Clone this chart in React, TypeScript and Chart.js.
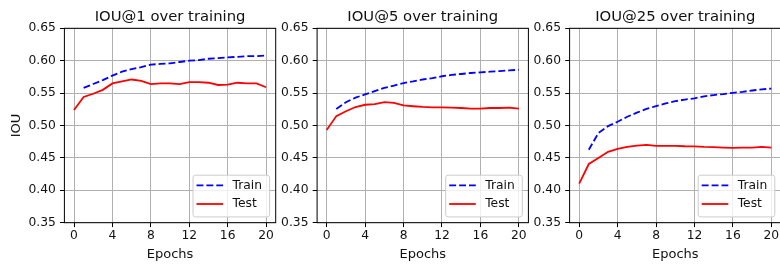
import React, { useEffect, useRef } from "react";
import { Chart, registerables } from "chart.js";

Chart.register(...registerables);

const EPOCHS = [0, 1, 2, 3, 4, 5, 6, 7, 8, 9, 10, 11, 12, 13, 14, 15, 16, 17, 18, 19, 20];
const X_TICKS = [0, 4, 8, 12, 16, 20];
const Y_TICKS = [0.35, 0.4, 0.45, 0.5, 0.55, 0.6, 0.65];
const TITLES = ["IOU@1 over training", "IOU@5 over training", "IOU@25 over training"];
const SERIES_NAMES = ["Train", "Test"];

const TRAIN_IOU1 = [null, 0.558, 0.564, 0.570, 0.577, 0.583, 0.587, 0.590, 0.594, 0.595, 0.596, 0.598, 0.600, 0.601, 0.603, 0.604, 0.605, 0.606, 0.607, 0.607, 0.608];
const TEST_IOU1 = [0.524, 0.544, 0.549, 0.555, 0.565, 0.568, 0.571, 0.569, 0.564, 0.565, 0.565, 0.564, 0.567, 0.567, 0.566, 0.5625, 0.563, 0.566, 0.565, 0.565, 0.559];
const TRAIN_IOU5 = [null, 0.5255, 0.536, 0.543, 0.548, 0.553, 0.558, 0.5615, 0.5655, 0.568, 0.571, 0.573, 0.576, 0.578, 0.5795, 0.581, 0.582, 0.583, 0.584, 0.585, 0.586];
const TEST_IOU5 = [0.493, 0.5145, 0.522, 0.5285, 0.532, 0.533, 0.536, 0.535, 0.531, 0.5297, 0.5286, 0.528, 0.528, 0.5276, 0.527, 0.526, 0.526, 0.527, 0.527, 0.5276, 0.526];
const TRAIN_IOU25 = [null, 0.4625, 0.4885, 0.499, 0.5057, 0.5135, 0.5198, 0.5255, 0.530, 0.534, 0.5375, 0.540, 0.542, 0.545, 0.547, 0.5484, 0.5505, 0.552, 0.554, 0.5557, 0.557];
const TEST_IOU25 = [0.4104, 0.4406, 0.450, 0.4594, 0.464, 0.467, 0.469, 0.470, 0.4687, 0.4687, 0.4687, 0.468, 0.4677, 0.467, 0.4667, 0.466, 0.4656, 0.466, 0.466, 0.467, 0.466];

const FONT = '"DejaVu Sans", sans-serif';
const TEXT = "#111";
const W = 780;
const H = 264;
const PLOT_LEFTS = [64.4, 317.1, 569.6];
const PLOT_WIDTH = 211.3;
const PLOT_TOP = 28.3;
const PLOT_BOTTOM = 222.7;

const spinesAndDecor = {
  id: "spinesAndDecor",
  afterDatasetsDraw(chart: any, _args: any, opts: any) {
    const { ctx, chartArea } = chart;
    const { left, right, top, bottom } = chartArea;
    ctx.save();
    ctx.strokeStyle = "#000";
    ctx.lineWidth = 1;
    ctx.strokeRect(left, top, right - left, bottom - top);

    // legend (lower right)
    const bw = 76.6;
    const bh = 41.7;
    const bx = right - 6.6 - bw;
    const by = bottom - 6.3 - bh;
    ctx.beginPath();
    (ctx as any).roundRect(bx + 0.5, by + 0.5, bw, bh, 2.5);
    ctx.fillStyle = "rgba(255,255,255,0.8)";
    ctx.fill();
    ctx.strokeStyle = "#cccccc";
    ctx.lineWidth = 1;
    ctx.stroke();
    const rows = [by + 10.7, by + 29.3];
    chart.data.datasets.forEach((ds: any, i: number) => {
      const y = rows[i];
      ctx.beginPath();
      ctx.setLineDash(ds.borderDash || []);
      ctx.strokeStyle = ds.borderColor;
      ctx.lineWidth = ds.borderWidth;
      ctx.moveTo(bx + 4, y);
      ctx.lineTo(bx + 30.6, y);
      ctx.stroke();
      ctx.setLineDash([]);
      ctx.fillStyle = TEXT;
      ctx.font = `12.3px ${FONT}`;
      ctx.textAlign = "left";
      ctx.textBaseline = "middle";
      ctx.fillText(ds.label, bx + 40, y);
    });

    // title
    ctx.fillStyle = TEXT;
    ctx.font = `14.8px ${FONT}`;
    ctx.textAlign = "center";
    ctx.textBaseline = "alphabetic";
    ctx.fillText(opts.title, (left + right) / 2, 21);
    ctx.restore();
  },
};

function Panel({ index, train, test }: { index: number; train: (number | null)[]; test: number[] }) {
  const ref = useRef<HTMLCanvasElement>(null);
  const L = PLOT_LEFTS[index];
  const canvasLeft = index === 0 ? 0 : Math.floor(L) - 60;
  const yWidth = L - canvasLeft;
  const canvasW = Math.ceil(yWidth + PLOT_WIDTH + 2);
  const padRight = canvasW - yWidth - PLOT_WIDTH;

  useEffect(() => {
    if (!ref.current) return;
    const chart = new Chart(ref.current, {
      type: "line",
      data: {
        datasets: [
          {
            label: SERIES_NAMES[0],
            data: train.map((v, i) => ({ x: EPOCHS[i], y: v })) as any,
            borderColor: "#0000ff",
            borderWidth: 1.8,
            borderDash: [6.9, 3],
            pointRadius: 0,
            fill: false,
            spanGaps: false,
          },
          {
            label: SERIES_NAMES[1],
            data: test.map((v, i) => ({ x: EPOCHS[i], y: v })) as any,
            borderColor: "#ff0000",
            borderWidth: 1.8,
            pointRadius: 0,
            fill: false,
          },
        ],
      },
      options: {
        animation: false,
        responsive: false,
        devicePixelRatio: 1,
        layout: { padding: { left: 0, right: padRight, top: PLOT_TOP, bottom: 0 } },
        elements: { line: { tension: 0 } },
        plugins: {
          legend: { display: false },
          tooltip: { enabled: false },
          title: { display: false },
          spinesAndDecor: { title: TITLES[index] },
        } as any,
        scales: {
          x: {
            type: "linear",
            min: -1,
            max: 21,
            afterBuildTicks: (s: any) => {
              s.ticks = X_TICKS.map((v) => ({ value: v }));
            },
            afterFit: (s: any) => {
              s.height = H - PLOT_BOTTOM;
            },
            grid: { color: "#b0b0b0", lineWidth: 1, tickLength: 4.4, tickColor: "#000", tickWidth: 1 },
            border: { display: false },
            ticks: {
              font: { family: FONT, size: 12.3 },
              color: TEXT,
              padding: 1.5,
              maxRotation: 0,
              autoSkip: false,
              callback: (v: any) => String(v),
            },
            title: {
              display: true,
              text: "Epochs",
              font: { family: FONT, size: 13 },
              color: TEXT,
              padding: { top: 0, bottom: 1.2 },
            },
          },
          y: {
            type: "linear",
            min: 0.35,
            max: 0.65,
            afterBuildTicks: (s: any) => {
              s.ticks = Y_TICKS.map((v) => ({ value: v }));
            },
            afterFit: (s: any) => {
              s.width = yWidth;
            },
            grid: { color: "#b0b0b0", lineWidth: 1, tickLength: 4.4, tickColor: "#000", tickWidth: 1 },
            border: { display: false },
            ticks: {
              font: { family: FONT, size: 12.3 },
              color: TEXT,
              padding: 4.2,
              callback: (v: any) => Number(v).toFixed(2),
            },
            title: {
              display: index === 0,
              text: "IOU",
              font: { family: FONT, size: 13 },
              color: TEXT,
              padding: { top: 9.2, bottom: 0 },
            },
          },
        },
      },
      plugins: [spinesAndDecor],
    });
    return () => chart.destroy();
  }, []);

  return (
    <canvas
      ref={ref}
      width={canvasW}
      height={H}
      style={{ position: "absolute", left: canvasLeft, top: 0, width: canvasW, height: H }}
    />
  );
}

export default function App() {
  return (
    <div
      style={{
        position: "absolute",
        left: 0,
        top: 0,
        width: W,
        height: H,
        overflow: "hidden",
        background: "#fff",
      }}
    >
      <Panel index={0} train={TRAIN_IOU1} test={TEST_IOU1} />
      <Panel index={1} train={TRAIN_IOU5} test={TEST_IOU5} />
      <Panel index={2} train={TRAIN_IOU25} test={TEST_IOU25} />
    </div>
  );
}
